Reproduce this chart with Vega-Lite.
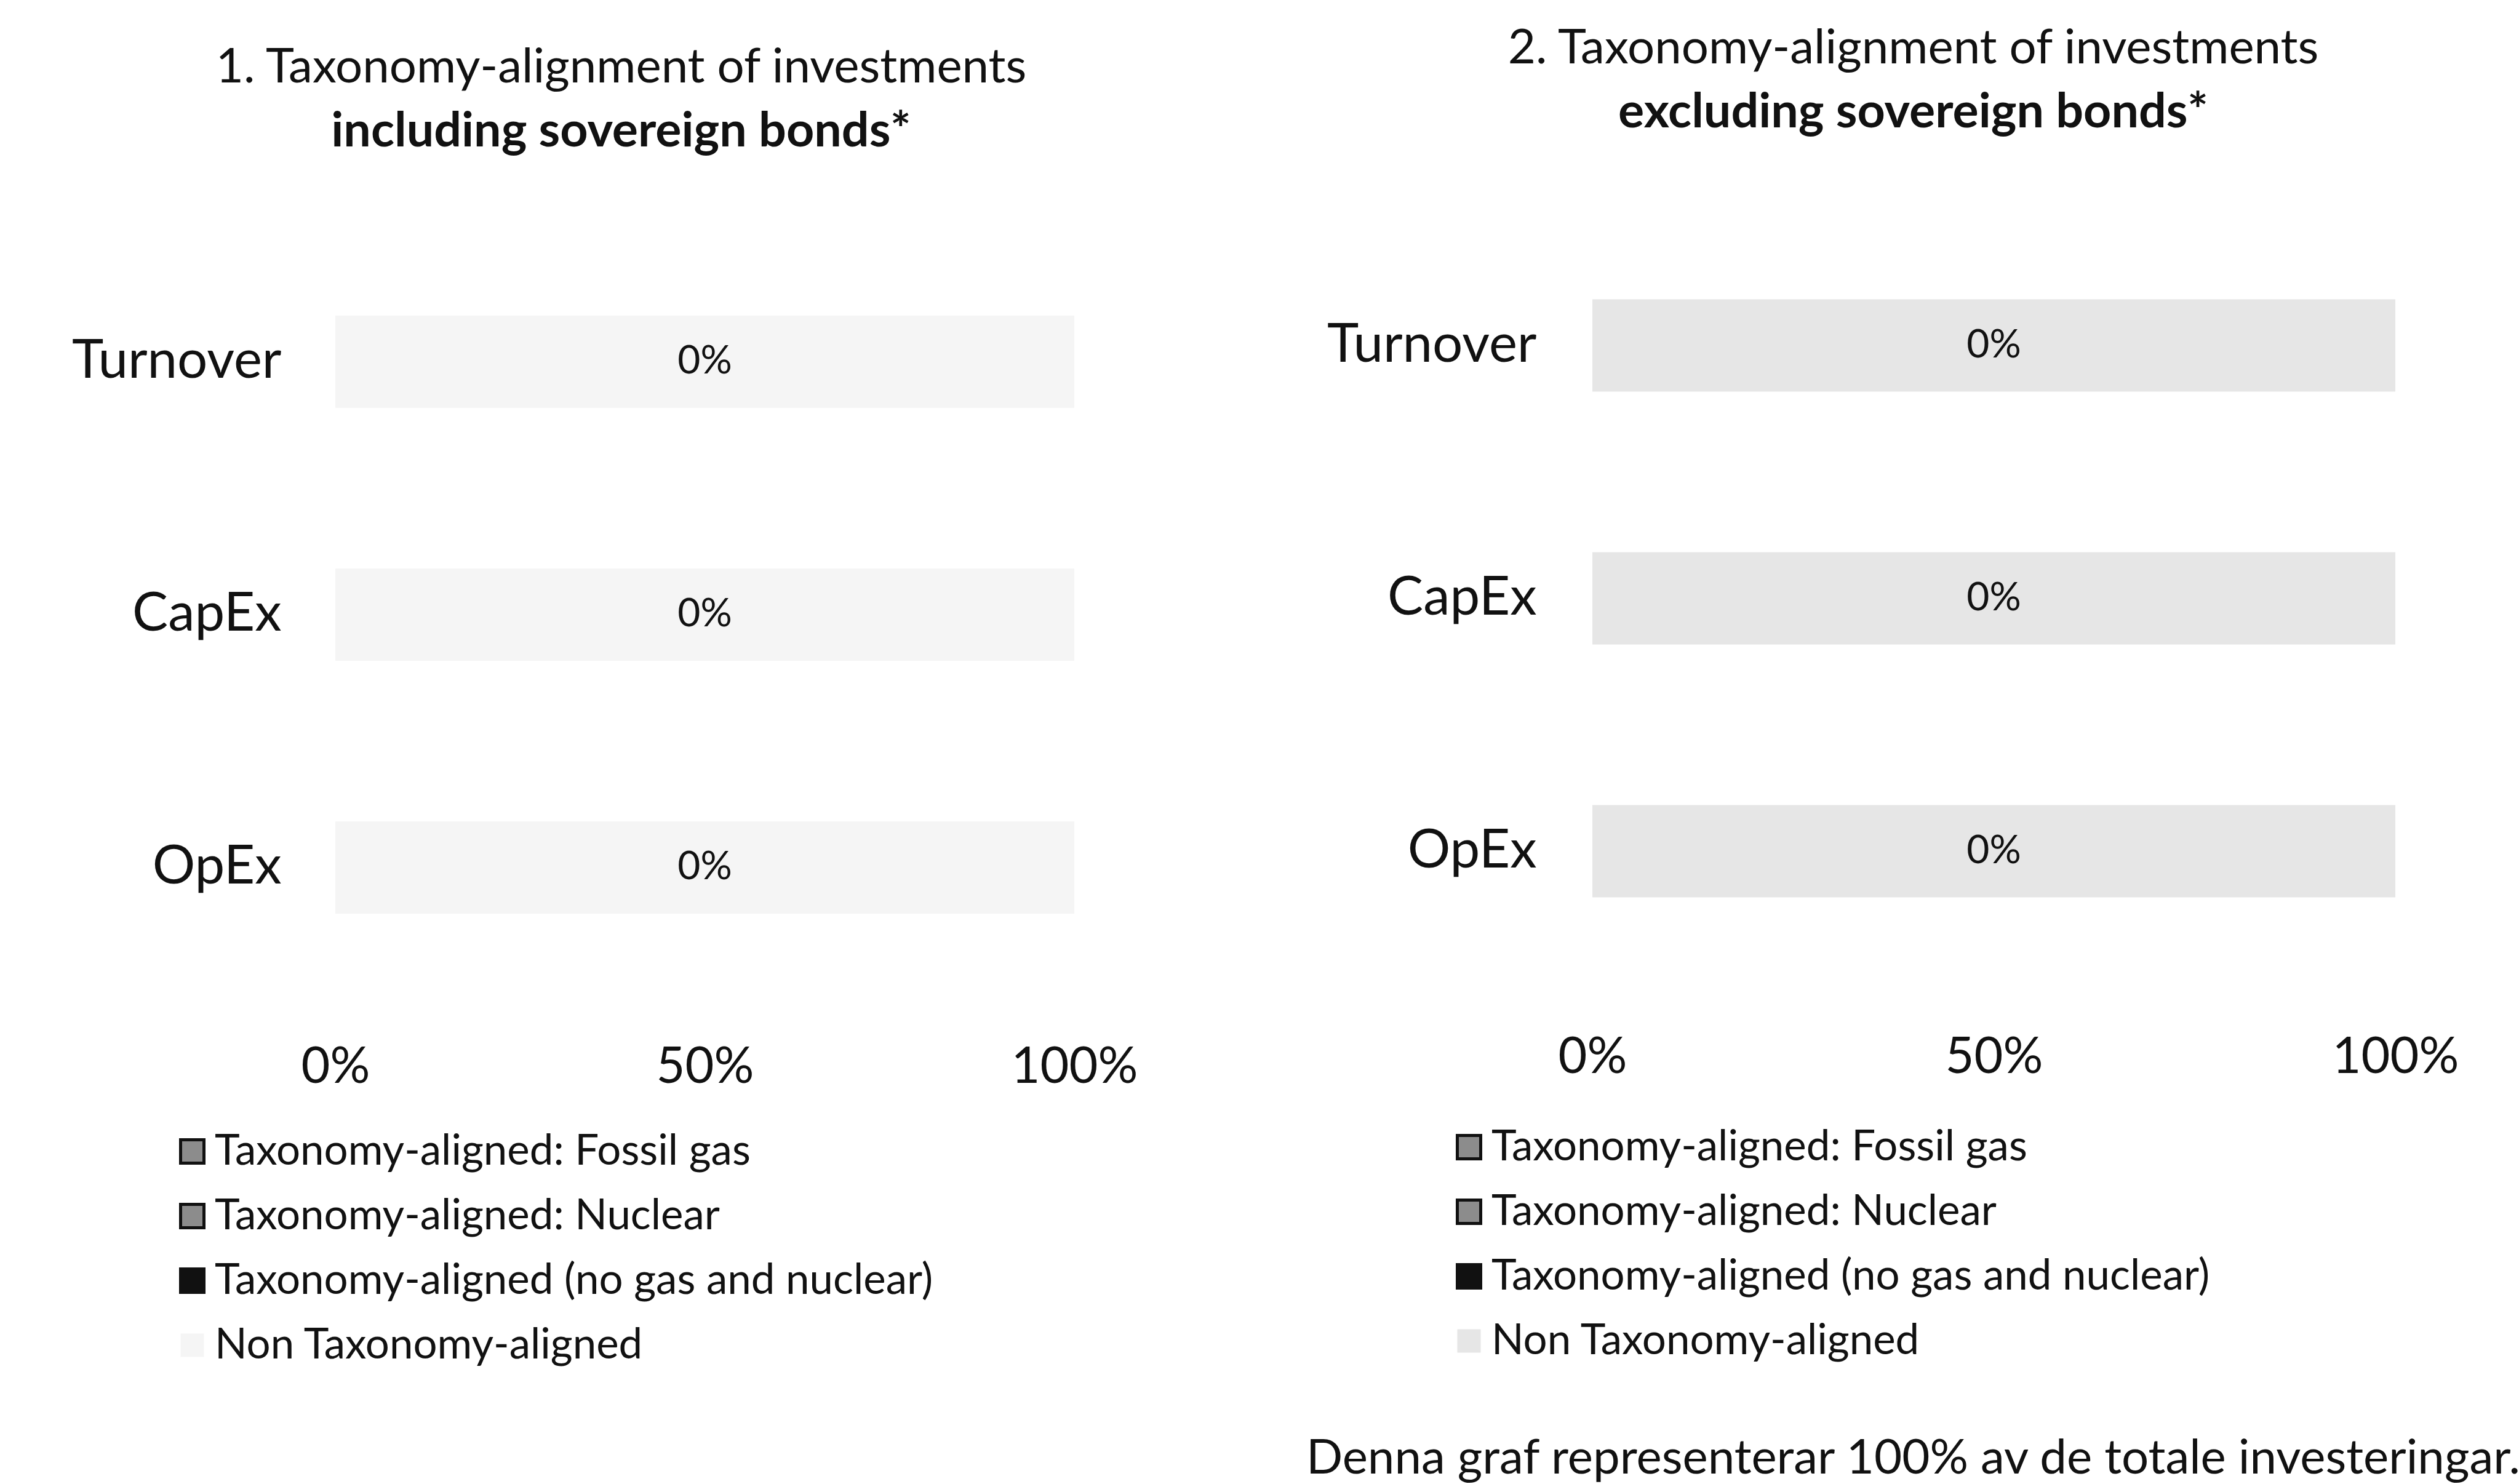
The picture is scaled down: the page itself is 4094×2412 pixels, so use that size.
{
  "$schema": "https://vega.github.io/schema/vega-lite/v6.json",
  "background": "white",
  "padding": {"left": 116, "top": 41, "right": 0, "bottom": 0},
  "config": {
    "font": "Lato",
    "view": {"stroke": null},
    "concat": {"spacing": 307},
    "axis": {"grid": false, "domain": false, "ticks": false, "labelColor": "#111", "labelFont": "Lato", "labelLimit": 1000, "labelFlush": false},
    "legend": {"labelColor": "#111"},
    "title": {"color": "#111", "subtitleColor": "#111"}
  },
  "datasets": {
    "bars": [
      {"panel": "including", "metric": "Turnover", "segment": "Taxonomy-aligned: Fossil gas", "share": 0},
      {"panel": "including", "metric": "Turnover", "segment": "Taxonomy-aligned: Nuclear", "share": 0},
      {"panel": "including", "metric": "Turnover", "segment": "Taxonomy-aligned (no gas and nuclear)", "share": 0},
      {"panel": "including", "metric": "Turnover", "segment": "Non Taxonomy-aligned", "share": 1},
      {"panel": "including", "metric": "CapEx", "segment": "Taxonomy-aligned: Fossil gas", "share": 0},
      {"panel": "including", "metric": "CapEx", "segment": "Taxonomy-aligned: Nuclear", "share": 0},
      {"panel": "including", "metric": "CapEx", "segment": "Taxonomy-aligned (no gas and nuclear)", "share": 0},
      {"panel": "including", "metric": "CapEx", "segment": "Non Taxonomy-aligned", "share": 1},
      {"panel": "including", "metric": "OpEx", "segment": "Taxonomy-aligned: Fossil gas", "share": 0},
      {"panel": "including", "metric": "OpEx", "segment": "Taxonomy-aligned: Nuclear", "share": 0},
      {"panel": "including", "metric": "OpEx", "segment": "Taxonomy-aligned (no gas and nuclear)", "share": 0},
      {"panel": "including", "metric": "OpEx", "segment": "Non Taxonomy-aligned", "share": 1},
      {"panel": "excluding", "metric": "Turnover", "segment": "Taxonomy-aligned: Fossil gas", "share": 0},
      {"panel": "excluding", "metric": "Turnover", "segment": "Taxonomy-aligned: Nuclear", "share": 0},
      {"panel": "excluding", "metric": "Turnover", "segment": "Taxonomy-aligned (no gas and nuclear)", "share": 0},
      {"panel": "excluding", "metric": "Turnover", "segment": "Non Taxonomy-aligned", "share": 1},
      {"panel": "excluding", "metric": "CapEx", "segment": "Taxonomy-aligned: Fossil gas", "share": 0},
      {"panel": "excluding", "metric": "CapEx", "segment": "Taxonomy-aligned: Nuclear", "share": 0},
      {"panel": "excluding", "metric": "CapEx", "segment": "Taxonomy-aligned (no gas and nuclear)", "share": 0},
      {"panel": "excluding", "metric": "CapEx", "segment": "Non Taxonomy-aligned", "share": 1},
      {"panel": "excluding", "metric": "OpEx", "segment": "Taxonomy-aligned: Fossil gas", "share": 0},
      {"panel": "excluding", "metric": "OpEx", "segment": "Taxonomy-aligned: Nuclear", "share": 0},
      {"panel": "excluding", "metric": "OpEx", "segment": "Taxonomy-aligned (no gas and nuclear)", "share": 0},
      {"panel": "excluding", "metric": "OpEx", "segment": "Non Taxonomy-aligned", "share": 1}
    ]
  },
  "title": {
    "text": "Denna graf representerar 100% av de totale investeringar.",
    "orient": "bottom", "anchor": "end", "fontSize": 78, "fontWeight": "normal", "offset": 111, "dx": 100, "color": "#111"
  },
  "resolve": {"scale": {"color": "independent"}},
  "hconcat": [
    {
      "width": 1201, "height": 1260,
      "title": {
        "text": "1. Taxonomy-alignment of investments",
        "subtitle": "including sovereign bonds*",
        "fontSize": 78, "fontWeight": "normal",
        "subtitleFontSize": 79, "subtitleFontWeight": "bold", "subtitleFont": "Lato",
        "subtitlePadding": 26, "offset": 102, "anchor": "middle", "dx": -136
      },
      "data": {"name": "bars"},
      "transform": [{"filter": "datum.panel == 'including'"}],
      "layer": [
        {
          "mark": {"type": "bar"},
          "encoding": {
            "y": {"field": "metric", "type": "nominal", "sort": ["Turnover", "CapEx", "OpEx"],
              "scale": {"paddingInner": 0.635, "paddingOuter": 0.3503, "align": 0.545},
              "axis": {"title": null, "labelFontSize": 87, "labelPadding": 88}},
            "x": {"field": "share", "type": "quantitative", "stack": "zero", "scale": {"domain": [0, 1]},
              "axis": {"title": null, "values": [0, 0.5, 1], "format": ".0%", "labelFontSize": 81, "labelPadding": 79}},
            "color": {"field": "segment", "type": "nominal",
              "scale": {"domain": ["Taxonomy-aligned: Fossil gas", "Taxonomy-aligned: Nuclear", "Taxonomy-aligned (no gas and nuclear)", "Non Taxonomy-aligned"],
                "range": ["#8c8c8c", "#8c8c8c", "#111111", "#f5f5f5"]},
              "legend": {"title": null, "orient": "none", "legendX": -267, "legendY": 1481, "labelFontSize": 69,
                "symbolType": "square", "symbolSize": 1444, "symbolStrokeWidth": 0, "rowPadding": 35, "labelOffset": 2,
                "padding": 0, "labelLimit": 2000,
                "encode": {"symbols": {"update": {
                  "stroke": {"signal": "datum.value == 'Non Taxonomy-aligned' ? 'transparent' : '#111111'"},
                  "strokeWidth": {"value": 5}}}}}},
            "order": {"field": "segment"}
          }
        },
        {
          "transform": [{"filter": "datum.segment == 'Taxonomy-aligned (no gas and nuclear)'"}],
          "mark": {"type": "text", "fontSize": 64, "color": "#111"},
          "encoding": {
            "y": {"field": "metric", "type": "nominal", "sort": ["Turnover", "CapEx", "OpEx"]},
            "x": {"datum": 0.5},
            "text": {"field": "share", "type": "quantitative", "format": ".0%"}
          }
        }
      ]
    },
    {
      "width": 1305, "height": 1233,
      "title": {
        "text": "2. Taxonomy-alignment of investments",
        "subtitle": "excluding sovereign bonds*",
        "fontSize": 78, "fontWeight": "normal",
        "subtitleFontSize": 79, "subtitleFontWeight": "bold", "subtitleFont": "Lato",
        "subtitlePadding": 26, "offset": 133, "anchor": "middle", "dx": -131
      },
      "data": {"name": "bars"},
      "transform": [{"filter": "datum.panel == 'excluding'"}],
      "layer": [
        {
          "mark": {"type": "bar"},
          "encoding": {
            "y": {"field": "metric", "type": "nominal", "sort": ["Turnover", "CapEx", "OpEx"],
              "scale": {"paddingInner": 0.635, "paddingOuter": 0.3175},
              "axis": {"title": null, "labelFontSize": 87, "labelPadding": 91}},
            "x": {"field": "share", "type": "quantitative", "stack": "zero", "scale": {"domain": [0, 1]},
              "axis": {"title": null, "values": [0, 0.5, 1], "format": ".0%", "labelFontSize": 81, "labelPadding": 90}},
            "color": {"field": "segment", "type": "nominal",
              "scale": {"domain": ["Taxonomy-aligned: Fossil gas", "Taxonomy-aligned: Nuclear", "Taxonomy-aligned (no gas and nuclear)", "Non Taxonomy-aligned"],
                "range": ["#8c8c8c", "#8c8c8c", "#111111", "#e6e6e6"]},
              "legend": {"title": null, "orient": "none", "legendX": -235, "legendY": 1474, "labelFontSize": 69,
                "symbolType": "square", "symbolSize": 1444, "symbolStrokeWidth": 0, "rowPadding": 35, "labelOffset": 2,
                "padding": 0, "labelLimit": 2000,
                "encode": {"symbols": {"update": {
                  "stroke": {"signal": "datum.value == 'Non Taxonomy-aligned' ? 'transparent' : '#111111'"},
                  "strokeWidth": {"value": 5}}}}}},
            "order": {"field": "segment"}
          }
        },
        {
          "transform": [{"filter": "datum.segment == 'Taxonomy-aligned (no gas and nuclear)'"}],
          "mark": {"type": "text", "fontSize": 64, "color": "#111"},
          "encoding": {
            "y": {"field": "metric", "type": "nominal", "sort": ["Turnover", "CapEx", "OpEx"]},
            "x": {"datum": 0.5},
            "text": {"field": "share", "type": "quantitative", "format": ".0%"}
          }
        }
      ]
    }
  ]
}
